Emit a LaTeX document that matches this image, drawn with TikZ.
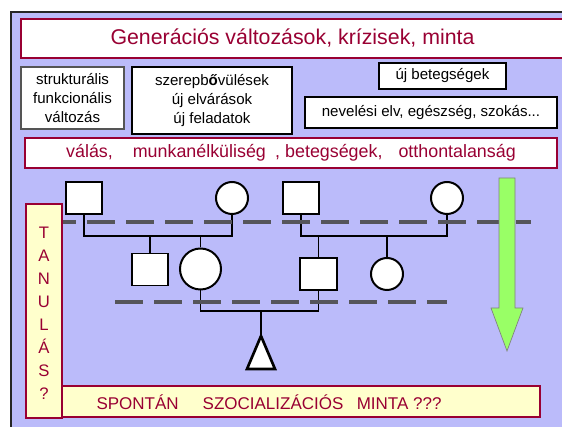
\documentclass[tikz,border=0pt]{standalone}
\usepackage{fontspec}
\setmainfont{Liberation Sans}
\usetikzlibrary{positioning}
\definecolor{crimson}{RGB}{153,0,51}
\definecolor{lavender}{RGB}{187,187,250}
\definecolor{boxgray}{RGB}{85,85,85}
\definecolor{dashgray}{RGB}{85,85,90}
\definecolor{paleyellow}{RGB}{255,255,204}
\definecolor{arrowgreen}{RGB}{153,255,102}
\tikzset{
  redbox/.style={draw=crimson,fill=white,line width=1pt,text=crimson,inner sep=0pt},
  infobox/.style={draw=black,fill=white,line width=1.1pt,align=center,inner sep=0pt,
    font=\fontsize{11.3}{14.25}\selectfont},
  notebox/.style={draw=crimson,fill=paleyellow,line width=1pt,inner sep=0pt},
  redtext/.style={text=crimson,inner sep=0pt},
  male/.style={draw,fill=white,line width=1.1pt,minimum width=27pt,minimum height=24pt,inner sep=0pt},
  female/.style={circle,draw,fill=white,line width=1.5pt,minimum size=24pt,inner sep=0pt},
  tie/.style={line width=1.4pt},
  genline/.style={draw=dashgray,line width=3pt,dash pattern=on 21pt off 8.25pt}
}
\begin{document}
\begin{tikzpicture}[x=0.75pt,y=-0.75pt]
\useasboundingbox (0,0) rectangle (562,427);
\fill[lavender] (11,12) rectangle (562,427);
\draw[line width=1.5pt,black!85] (11,427) -- (11,12) -- (562,12);
% headings
\node[redbox,minimum width=407.25pt,minimum height=29.25pt,font=\fontsize{16}{19}\selectfont] (title) at (292.5,38.5) {Generációs változások, krízisek, minta};
\node[infobox,draw=boxgray,minimum width=77.25pt,minimum height=46.5pt] (strukt) at (72.5,98) {strukturális\\funkcionális\\változás};
\node[infobox,minimum width=120pt,minimum height=50.25pt] (szerep) at (212,100.5) {szerepb\textbf{ő}vülések\\új elvárások\\új feladatok};
\node[infobox,minimum width=95.25pt,minimum height=19.5pt] (ujbeteg) at (442.5,76) {új betegségek};
\node[infobox,minimum width=189pt,minimum height=23.25pt] (neveles) at (431,112.5) {nevelési elv, egészség, szokás...};
\node[redbox,minimum width=399pt,minimum height=22.5pt,font=\fontsize{13.4}{15}\selectfont] (valas) at (291,153)
  {válás,\hspace{15pt}munkanélküliség\hspace{7pt}, betegségek,\hspace{12pt}otthontalanság};
% pedigree
\foreach \n/\x/\y in {m1/84/198,m2/301/198,c1/150/269.5}
  \node[male] (\n) at (\x,\y) {};
\node[male,line width=2pt,minimum width=27.75pt] (c3) at (318.5,274) {};
\foreach \n/\x/\y/\d in {f1/232/198/24pt,f2/447/198/24pt,c2/200.5/269/30.75pt,c4/387/274/24pt}
  \node[female,minimum size=\d] (\n) at (\x,\y) {};
\coordinate (gen1) at (0,236);
\coordinate (gen2) at (0,311);
\coordinate (baby) at (261,336);
\draw[line width=2pt,fill=white,line join=miter] (baby) -- (275,369) -- (247,369) -- cycle;
\foreach \a/\b/\g in {m1/f1/gen1,m2/f2/gen1,c2/c3/gen2}
  \draw[tie] (\a.south) -- (\a.south |- \g) -| (\b.south);
\foreach \c in {c1,c2,c3,c4}
  \draw[tie] (\c.north) -- (\c.north |- gen1);
\draw[tie] (baby) -- (baby |- gen2);
\draw[genline] (48,222) -- (531,222);
\draw[genline] (115,302) -- (447,302);
% arrow and side notes
\draw[draw=gray,line width=0.5pt,fill=arrowgreen] (499,178) -- (515,178) -- (515,308) -- (523,308)
  -- (507,351) -- (491,308) -- (499,308) -- cycle;
\node[notebox,minimum width=27pt,minimum height=160.5pt] (tanulas) at (44,311) {};
\foreach \l [count=\i] in {T,A,N,U,L,Á,S,?}
  \node[redtext,text height=9pt,text depth=0pt,font=\fontsize{12.5}{15}\selectfont] (tan\i) at (44,210+23*\i) {\l};
\node[notebox,minimum width=358.5pt,minimum height=23.25pt] (spontan) at (301,401.5) {};
\node[redtext,font=\fontsize{12.75}{15}\selectfont] (spontxt) at (269,402)
  {SPONTÁN\hspace{18pt}SZOCIALIZÁCIÓS\hspace{10pt}MINTA ???};
\end{tikzpicture}
\end{document}
